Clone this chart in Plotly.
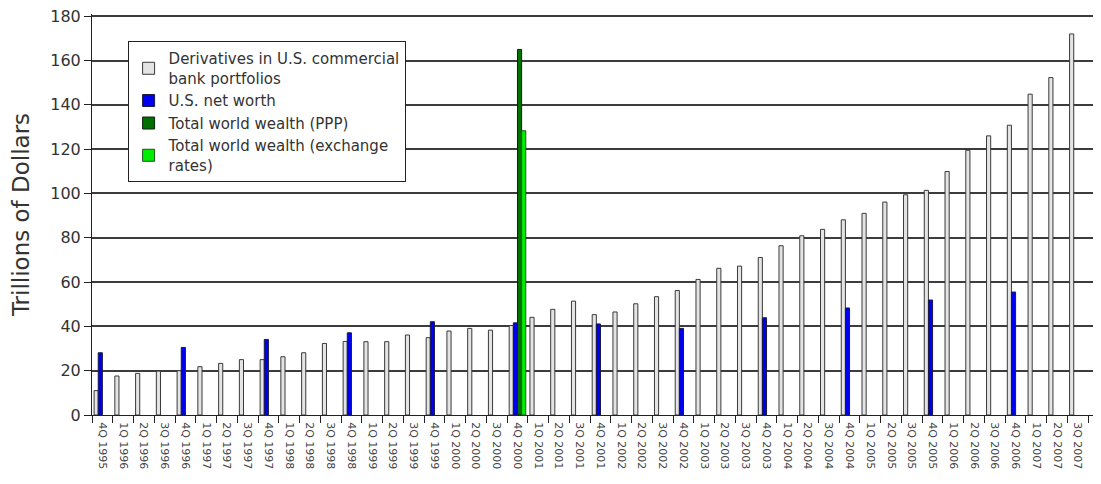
import plotly.graph_objects as go

quarters = [
    "4Q 1995", "1Q 1996", "2Q 1996", "3Q 1996", "4Q 1996",
    "1Q 1997", "2Q 1997", "3Q 1997", "4Q 1997",
    "1Q 1998", "2Q 1998", "3Q 1998", "4Q 1998",
    "1Q 1999", "2Q 1999", "3Q 1999", "4Q 1999",
    "1Q 2000", "2Q 2000", "3Q 2000", "4Q 2000",
    "1Q 2001", "2Q 2001", "3Q 2001", "4Q 2001",
    "1Q 2002", "2Q 2002", "3Q 2002", "4Q 2002",
    "1Q 2003", "2Q 2003", "3Q 2003", "4Q 2003",
    "1Q 2004", "2Q 2004", "3Q 2004", "4Q 2004",
    "1Q 2005", "2Q 2005", "3Q 2005", "4Q 2005",
    "1Q 2006", "2Q 2006", "3Q 2006", "4Q 2006",
    "1Q 2007", "2Q 2007", "3Q 2007", "4Q 2007",
]

derivatives = [
    11.0, 17.6, 18.8, 19.8, 20.0,
    21.8, 23.3, 25.0, 25.0,
    26.3, 28.1, 32.3, 33.2,
    33.1, 33.1, 36.1, 34.9,
    37.9, 39.1, 38.3, 40.4,
    44.1, 47.7, 51.4, 45.3,
    46.5, 50.2, 53.4, 56.2,
    61.2, 66.2, 67.2, 71.1,
    76.4, 80.9, 83.8, 88.1,
    91.0, 96.1, 99.4, 101.4,
    109.9, 119.5, 126.0, 130.8,
    144.8, 152.3, 172.0, None,
]

net_worth_quarters = ["4Q 1995", "4Q 1996", "4Q 1997", "4Q 1998", "4Q 1999", "4Q 2000",
                      "4Q 2001", "4Q 2002", "4Q 2003", "4Q 2004", "4Q 2005", "4Q 2006", "4Q 2007"]
net_worth = [28.1, 30.5, 34.1, 37.1, 42.1, 41.6, 41.1, 39.1, 43.9, 48.3, 51.9, 55.5, 57.6]

world_quarters = ["4Q 2000"]
world_ppp = [165.0]
world_fx = [128.3]

FONT = "DejaVu Sans"

fig = go.Figure()
fig.add_trace(go.Bar(x=quarters, y=derivatives,
                     name="Derivatives in U.S. commercial<br>bank portfolios",
                     marker=dict(color="#e4e4e4", line=dict(color="#3a3a3a", width=1))))
fig.add_trace(go.Bar(x=net_worth_quarters, y=net_worth, name="U.S. net worth",
                     marker=dict(color="#0000f0", line=dict(color="#1a1a40", width=1))))
fig.add_trace(go.Bar(x=world_quarters, y=world_ppp, name="Total world wealth (PPP)",
                     marker=dict(color="#007000", line=dict(color="#102010", width=1))))
fig.add_trace(go.Bar(x=world_quarters, y=world_fx, name="Total world wealth (exchange<br>rates)",
                     marker=dict(color="#00ee00", line=dict(color="#205020", width=1))))

fig.update_layout(
    width=1101, height=484,
    margin=dict(l=84, r=0, t=6, b=77),
    paper_bgcolor="white", plot_bgcolor="white",
    barmode="group", bargap=0.2, bargroupgap=0,
    font=dict(family=FONT, color="#333333"),
    showlegend=True,
    legend=dict(x=0.035, y=0.932, xanchor="left", yanchor="top",
                bgcolor="white", bordercolor="#222222", borderwidth=1,
                font=dict(family=FONT, size=15, color="#333333"),
                traceorder="normal", tracegroupgap=0, itemwidth=30),
)

fig.update_xaxes(
    type="category", categoryorder="array", categoryarray=quarters,
    range=[-0.5, 48.5], tickson="boundaries",
    tickangle=90, tickfont=dict(family=FONT, size=11, color="#444444"),
    ticks="outside", ticklen=7, tickcolor="#222222", ticklabelstandoff=4,
    showline=True, linecolor="#222222", linewidth=1,
    showgrid=False, automargin=False, ticklabeloverflow="allow",
)
fig.update_yaxes(
    range=[0, 181], dtick=20, tick0=0,
    showgrid=True, gridcolor="#3c3c3c", gridwidth=1.5,
    showline=True, linecolor="#222222", linewidth=1,
    ticks="outside", ticklen=7, tickcolor="#222222",
    tickfont=dict(family=FONT, size=16, color="#333333"),
    ticklabeloverflow="allow",
    title=dict(text="Trillions of Dollars", font=dict(family=FONT, size=23, color="#333333"), standoff=18),
    zeroline=False, automargin=False,
)

fig.write_html("out.html")
